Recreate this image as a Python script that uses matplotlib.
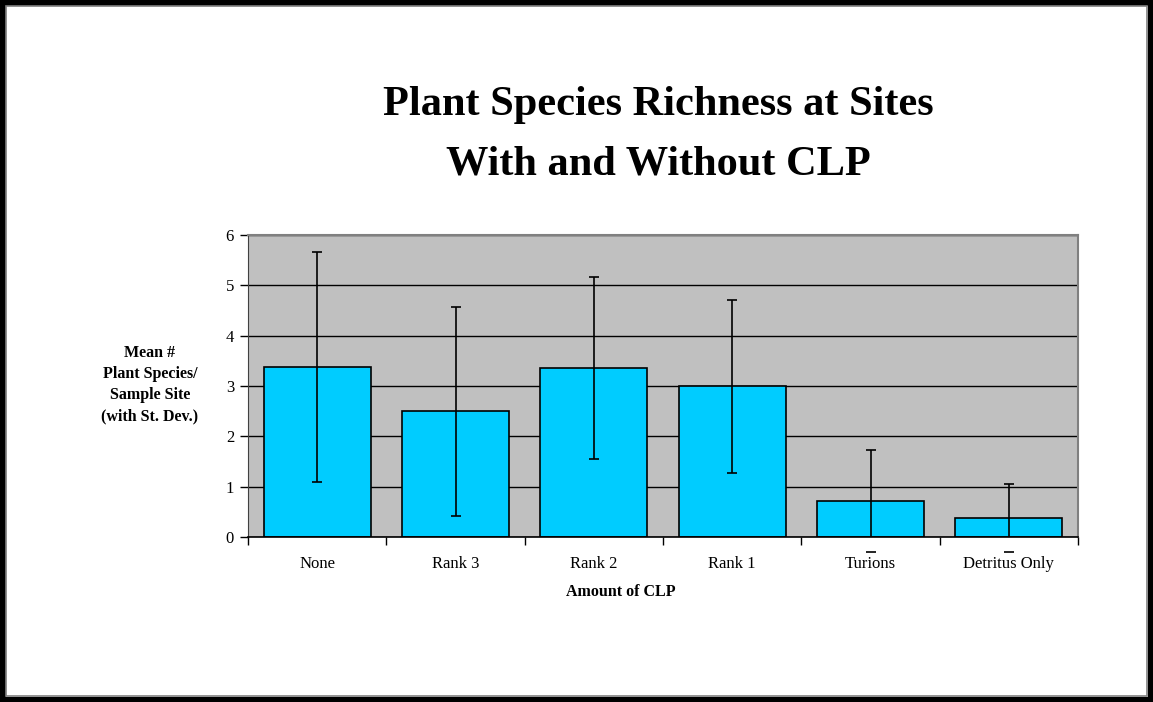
import matplotlib
matplotlib.use("Agg")
import matplotlib.pyplot as plt
import matplotlib.patches as patches
import numpy as np

categories = ["None", "Rank 3", "Rank 2", "Rank 1", "Turions", "Detritus Only"]
means = [3.38, 2.50, 3.36, 3.00, 0.72, 0.38]
st_dev = [2.29, 2.08, 1.80, 1.72, 1.01, 0.67]

plt.rcParams["font.family"] = ["Liberation Serif", "DejaVu Serif"]

fig = plt.figure(figsize=(11.53, 7.02), dpi=100)

# outer frame like the original slide
fig.patches.append(patches.Rectangle((0, 0), 1, 1, transform=fig.transFigure,
                                     fill=False, edgecolor="black", linewidth=8))
fig.patches.append(patches.Rectangle((0.0052, 0.0085), 0.9896, 0.983, transform=fig.transFigure,
                                     fill=False, edgecolor="#808080", linewidth=1.2))

ax = fig.add_axes([0.2151, 0.235, 0.7199, 0.430])
ax.set_facecolor("#C0C0C0")

x = np.arange(len(categories))
ax.set_axisbelow(True)
ax.yaxis.grid(True, color="black", linewidth=1.0)
ax.bar(x, means, width=0.775, color="#00CCFF", edgecolor="black", linewidth=1.2, zorder=2)
_, caps, bars = ax.errorbar(x, means, yerr=st_dev, fmt="none", ecolor="black",
                            elinewidth=1.2, capsize=3.8, capthick=1.2, zorder=3)
for c in caps:
    c.set_clip_on(False)

ax.set_xlim(-0.5, len(categories) - 0.5)
ax.set_ylim(0, 6)
ax.set_yticks(range(7))
ax.set_xticks(x)
ax.set_xticklabels(categories, fontsize=12)
ax.set_xticks(np.arange(-0.5, len(categories)), minor=True)
ax.tick_params(axis="x", which="major", length=0, pad=14)
ax.tick_params(axis="x", which="minor", length=6, width=1, direction="out")
ax.tick_params(axis="y", length=6, width=1, direction="out", labelsize=12, pad=4)

for side in ["top", "right"]:
    ax.spines[side].set_color("#808080")
    ax.spines[side].set_linewidth(1.5)
ax.spines["left"].set_color("#404040")
ax.spines["bottom"].set_color("black")
ax.spines["bottom"].set_linewidth(1.2)

fig.text(0.571, 0.851, "Plant Species Richness at Sites", ha="center", va="center",
         fontsize=30.5, fontweight="bold")
fig.text(0.571, 0.766, "With and Without CLP", ha="center", va="center",
         fontsize=30.5, fontweight="bold")
fig.text(0.130, 0.452, "Mean #\nPlant Species/\nSample Site\n(with St. Dev.)",
         ha="center", va="center", fontsize=11.5, fontweight="bold", linespacing=1.45)
fig.text(0.538, 0.156, "Amount of CLP", ha="center", va="center",
         fontsize=11.5, fontweight="bold")

fig.savefig("out.png", dpi=100)
